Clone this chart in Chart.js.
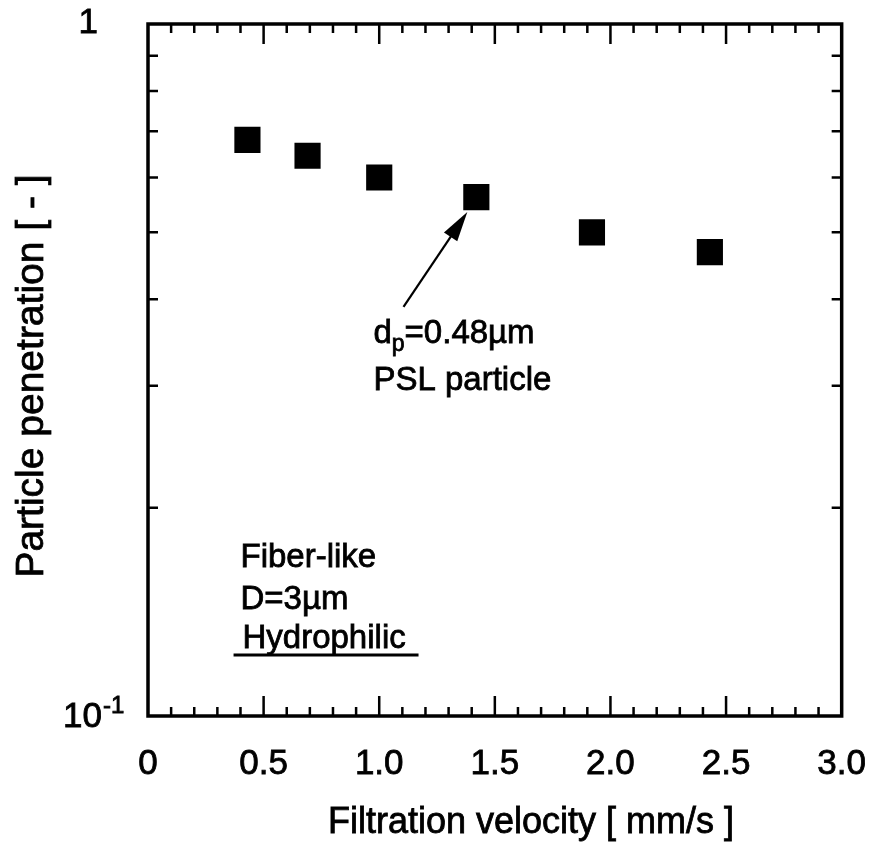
<!DOCTYPE html>
<html>
<head>
<meta charset="utf-8">
<script src="https://cdn.jsdelivr.net/npm/chart.js@4.4.1/dist/chart.umd.min.js"></script>
<style>
  html, body { margin: 0; padding: 0; background: #fff; }
  #wrap { width: 893px; height: 847px; }
</style>
</head>
<body>
<div id="wrap"><canvas id="penetration-chart" width="893" height="847"></canvas></div>
<script>
// Data
var velocity = [0.43, 0.69, 1.00, 1.42, 1.92, 2.43];          // mm/s
var penetration = [0.680, 0.645, 0.600, 0.562, 0.500, 0.468]; // [-]

// Axis ticks
var xMajorTicks = [0, 0.5, 1.0, 1.5, 2.0, 2.5, 3.0];
var xMinorTicks = [0.1, 0.2, 0.3, 0.4, 0.6, 0.7, 0.8, 0.9, 1.1, 1.2, 1.3, 1.4, 1.6, 1.7, 1.8, 1.9,
                   2.1, 2.2, 2.3, 2.4, 2.6, 2.7, 2.8, 2.9];
var yMinorTicks = [0.2, 0.3, 0.4, 0.5, 0.6, 0.7, 0.8, 0.9];
var yTickLabels = [{ value: 1, base: "1", exp: "" }, { value: 0.1, base: "10", exp: "-1" }];

var FONT = "'Liberation Sans', Arial, Helvetica, sans-serif";
Chart.defaults.font.family = FONT;
Chart.defaults.color = "#000";

var points = velocity.map(function (v, i) { return { x: v, y: penetration[i] }; });

// text with a thin outline so it looks as heavy as the scan
function heavyText(ctx, s, x, y) {
  ctx.fillText(s, x, y);
  ctx.strokeText(s, x, y);
}

// frame, inward ticks, y labels, titles and annotations
var decorations = {
  id: "decorations",
  afterDraw: function (chart) {
    var ctx = chart.ctx;
    var a = chart.chartArea;
    var xs = chart.scales.x, ys = chart.scales.y;
    ctx.save();
    ctx.strokeStyle = "#000";
    ctx.fillStyle = "#000";

    // frame
    ctx.lineWidth = 3.5;
    ctx.strokeRect(a.left, a.top, a.right - a.left, a.bottom - a.top);

    // x ticks, bottom and top
    ctx.lineWidth = 2.5;
    ctx.beginPath();
    xMinorTicks.forEach(function (t) {
      var px = xs.getPixelForValue(t);
      ctx.moveTo(px, a.bottom); ctx.lineTo(px, a.bottom - 9);
      ctx.moveTo(px, a.top); ctx.lineTo(px, a.top + 9);
    });
    xMajorTicks.forEach(function (t) {
      if (t === 0 || t === 3.0) return;
      var px = xs.getPixelForValue(t);
      ctx.moveTo(px, a.bottom); ctx.lineTo(px, a.bottom - 20);
      ctx.moveTo(px, a.top); ctx.lineTo(px, a.top + 20);
    });
    // y ticks, left and right
    yMinorTicks.forEach(function (t) {
      var py = ys.getPixelForValue(t);
      ctx.moveTo(a.left, py); ctx.lineTo(a.left + 10, py);
      ctx.moveTo(a.right, py); ctx.lineTo(a.right - 10, py);
    });
    ctx.stroke();

    ctx.lineWidth = 0.8;

    // y tick labels (1 and 10^-1)
    ctx.textBaseline = "middle";
    yTickLabels.forEach(function (l) {
      var py = ys.getPixelForValue(l.value);
      if (!l.exp) {
        ctx.font = "35px " + FONT;
        ctx.textAlign = "right";
        heavyText(ctx, l.base, a.left - 50, py - 1);
      } else {
        ctx.font = "35px " + FONT;
        ctx.textAlign = "right";
        heavyText(ctx, l.base, a.left - 46, py + 1);
        ctx.font = "24px " + FONT;
        ctx.textAlign = "left";
        heavyText(ctx, l.exp, a.left - 45, py - 10);
      }
    });

    // axis titles
    ctx.font = "36px " + FONT;
    ctx.textAlign = "center";
    ctx.textBaseline = "alphabetic";
    heavyText(ctx, "Filtration velocity [ mm/s ]", 531, 833);
    ctx.save();
    ctx.translate(43, 376);
    ctx.rotate(-Math.PI / 2);
    ctx.font = "39px " + FONT;
    heavyText(ctx, "Particle penetration [ - ]", 0, 0);
    ctx.restore();

    // arrow pointing to the 1.42 mm/s point
    var x0 = xs.getPixelForValue(1.105), y0 = ys.getPixelForValue(0.390);
    var x1 = xs.getPixelForValue(1.381), y1 = ys.getPixelForValue(0.535);
    var ang = Math.atan2(y1 - y0, x1 - x0);
    ctx.lineWidth = 2.2;
    ctx.beginPath();
    ctx.moveTo(x0, y0);
    ctx.lineTo(x1 - 20 * Math.cos(ang), y1 - 20 * Math.sin(ang));
    ctx.stroke();
    ctx.beginPath();
    ctx.moveTo(x1, y1);
    ctx.lineTo(x1 - 30 * Math.cos(ang) + 8 * Math.sin(ang), y1 - 30 * Math.sin(ang) - 8 * Math.cos(ang));
    ctx.lineTo(x1 - 30 * Math.cos(ang) - 8 * Math.sin(ang), y1 - 30 * Math.sin(ang) + 8 * Math.cos(ang));
    ctx.closePath();
    ctx.fill();

    // annotation texts
    ctx.lineWidth = 0.8;
    ctx.textAlign = "left";
    ctx.textBaseline = "alphabetic";
    var tx = xs.getPixelForValue(0.975);
    var ty = ys.getPixelForValue(0.346);
    ctx.font = "33px " + FONT;
    heavyText(ctx, "d", tx, ty);
    var w = ctx.measureText("d").width;
    ctx.font = "23px " + FONT;
    heavyText(ctx, "p", tx + w, ty + 8);
    var w2 = ctx.measureText("p").width;
    ctx.font = "33px " + FONT;
    heavyText(ctx, "=0.48\u00b5m", tx + w + w2, ty);
    heavyText(ctx, "PSL particle", tx, ys.getPixelForValue(0.296));

    var lx = xs.getPixelForValue(0.40);
    heavyText(ctx, "Fiber-like", lx, ys.getPixelForValue(0.164));
    heavyText(ctx, "D=3\u00b5m", lx, ys.getPixelForValue(0.143));
    heavyText(ctx, "Hydrophilic", lx + 2, ys.getPixelForValue(0.1254));
    ctx.lineWidth = 3;
    ctx.beginPath();
    var uy = ys.getPixelForValue(0.1225);
    ctx.moveTo(xs.getPixelForValue(0.37), uy);
    ctx.lineTo(xs.getPixelForValue(1.17), uy);
    ctx.stroke();

    ctx.restore();
  }
};

new Chart(document.getElementById("penetration-chart"), {
  type: "scatter",
  data: {
    datasets: [{
      label: "PSL particle",
      data: points,
      pointStyle: "rect",
      pointRadius: 18.5,
      pointHoverRadius: 18.5,
      pointBorderWidth: 0,
      backgroundColor: "#000",
      borderColor: "#000"
    }]
  },
  options: {
    responsive: false,
    animation: false,
    events: [],
    layout: { padding: { top: 24, right: 39, left: 0, bottom: 0 } },
    plugins: { legend: { display: false }, tooltip: { enabled: false } },
    scales: {
      x: {
        type: "linear",
        min: 0,
        max: 3,
        grid: { display: false, drawTicks: false },
        border: { display: false },
        ticks: {
          stepSize: 0.5,
          padding: 27,
          font: { size: 35 },
          color: "#000",
          textStrokeColor: "#000",
          textStrokeWidth: 0.8,
          maxRotation: 0,
          callback: function (v) { return v === 0 ? "0" : v.toFixed(1); }
        },
        afterFit: function (scale) { scale.height = 131; }
      },
      y: {
        type: "logarithmic",
        min: 0.1,
        max: 1,
        grid: { display: false, drawTicks: false },
        border: { display: false },
        ticks: { display: false },
        afterFit: function (scale) { scale.width = 148; }
      }
    }
  },
  plugins: [decorations]
});
</script>
</body>
</html>
